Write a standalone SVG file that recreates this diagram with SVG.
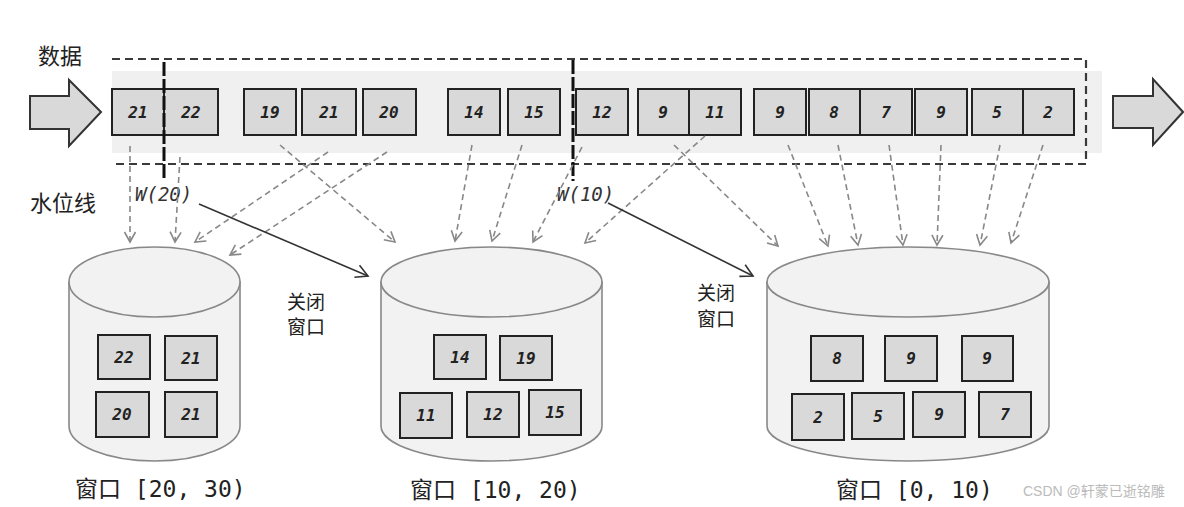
<svg xmlns="http://www.w3.org/2000/svg" width="1184" height="507" viewBox="0 0 1184 507">
<defs>
<style>
.box{fill:#d9d9d9;stroke:#222;stroke-width:2}
.bt{font-family:"DejaVu Sans Mono","Liberation Mono",monospace;font-weight:bold;font-style:italic;font-size:16px;fill:#222;text-anchor:middle;dominant-baseline:central}
.cyl{fill:#f2f2f2;stroke:#888;stroke-width:1.6}
.cjk{font-family:"Noto Sans CJK SC","Noto Sans",sans-serif;fill:#222}
.lbl{font-family:"DejaVu Sans Mono","Noto Sans CJK SC",monospace;font-size:23px;fill:#222}
.wl{font-family:"DejaVu Sans Mono","Liberation Mono",monospace;font-style:italic;font-size:19px;fill:#333}
.da{fill:none;stroke:#888;stroke-width:1.6;stroke-dasharray:6,4;marker-end:url(#ag)}
.sa{fill:none;stroke:#333;stroke-width:1.6;marker-end:url(#ab)}
.frame{fill:none;stroke:#3a3a3a;stroke-width:2.2;stroke-dasharray:8,5}
.wm{stroke:#111;stroke-width:3;stroke-dasharray:14,3}
.big{fill:#d9d9d9;stroke:#333;stroke-width:2}
</style>
<marker id="ag" markerUnits="userSpaceOnUse" markerWidth="14" markerHeight="14" refX="11" refY="6" orient="auto" viewBox="0 0 14 12">
<path d="M1,0.5 L11,6 L1,11.5" fill="none" stroke="#888" stroke-width="1.6"/>
</marker>
<marker id="ab" markerUnits="userSpaceOnUse" markerWidth="16" markerHeight="16" refX="13" refY="7" orient="auto" viewBox="0 0 16 14">
<path d="M1,0.5 L13,7 L1,13.5" fill="none" stroke="#333" stroke-width="1.6"/>
</marker>
</defs>
<rect width="1184" height="507" fill="#fff"/>

<g id="stream">
<rect x="112" y="71" width="990" height="82" fill="#f0f0f0"/>
<path class="frame" d="M112,59 H1086 V164 H112"/>
<polygon class="big" points="30,96 69,96 69,80 101,112 69,146 69,129 30,129"/>
<polygon class="big" points="1113,96 1153,96 1153,79 1183,112 1153,145 1153,128 1113,128"/>
<text class="cjk" x="38" y="64" font-size="22">数据</text>
<text class="cjk" x="30" y="211" font-size="22">水位线</text>
</g>

<g id="stream-events">
<rect class="box" x="112" y="89" width="52" height="46"/><text class="bt" x="138" y="112">21</text>
<rect class="box" x="164" y="89" width="54" height="46"/><text class="bt" x="191" y="112">22</text>
<rect class="box" x="244" y="89" width="52" height="46"/><text class="bt" x="270" y="112">19</text>
<rect class="box" x="302" y="89" width="54" height="46"/><text class="bt" x="329" y="112">21</text>
<rect class="box" x="363" y="89" width="53" height="46"/><text class="bt" x="389" y="112">20</text>
<rect class="box" x="448" y="89" width="52" height="46"/><text class="bt" x="474" y="112">14</text>
<rect class="box" x="508" y="89" width="52" height="46"/><text class="bt" x="534" y="112">15</text>
<rect class="box" x="576" y="89" width="52" height="46"/><text class="bt" x="602" y="112">12</text>
<rect class="box" x="638" y="89" width="51" height="46"/><text class="bt" x="663" y="112">9</text>
<rect class="box" x="689" y="89" width="52" height="46"/><text class="bt" x="715" y="112">11</text>
<rect class="box" x="754" y="89" width="52" height="46"/><text class="bt" x="780" y="112">9</text>
<rect class="box" x="809" y="89" width="51" height="46"/><text class="bt" x="834" y="112">8</text>
<rect class="box" x="860" y="89" width="52" height="46"/><text class="bt" x="886" y="112">7</text>
<rect class="box" x="915" y="89" width="52" height="46"/><text class="bt" x="941" y="112">9</text>
<rect class="box" x="972" y="89" width="51" height="46"/><text class="bt" x="997" y="112">5</text>
<rect class="box" x="1023" y="89" width="51" height="46"/><text class="bt" x="1048" y="112">2</text>
</g>

<g id="watermark-20">
<line class="wm" x1="164" y1="62" x2="164" y2="181"/>
<text class="wl" x="135" y="201">W(20)</text>
</g>
<g id="watermark-10">
<line class="wm" x1="573" y1="60" x2="573" y2="181"/>
<text class="wl" x="557" y="201">W(10)</text>
</g>

<g id="window-20-30">
<path class="cyl" d="M69,282 V426 A85.5,35 0 0 0 240,426 V282 Z"/>
<ellipse class="cyl" cx="154.5" cy="282" rx="85.5" ry="35"/>
<rect class="box" x="98" y="335" width="52" height="44"/><text class="bt" x="124" y="357">22</text>
<rect class="box" x="165" y="336" width="52" height="44"/><text class="bt" x="191" y="358">21</text>
<rect class="box" x="96" y="392" width="53" height="45"/><text class="bt" x="122" y="414">20</text>
<rect class="box" x="165" y="392" width="52" height="45"/><text class="bt" x="191" y="414">21</text>
<text class="lbl" x="75" y="497">窗口 [20, 30)</text>
</g>

<g id="window-10-20">
<path class="cyl" d="M381,282 V426 A110.5,35 0 0 0 602,426 V282 Z"/>
<ellipse class="cyl" cx="491.5" cy="282" rx="110.5" ry="35"/>
<rect class="box" x="434" y="335" width="52" height="44"/><text class="bt" x="460" y="357">14</text>
<rect class="box" x="500" y="336" width="52" height="44"/><text class="bt" x="526" y="358">19</text>
<rect class="box" x="400" y="393" width="52" height="45"/><text class="bt" x="426" y="415">11</text>
<rect class="box" x="467" y="392" width="52" height="45"/><text class="bt" x="493" y="414">12</text>
<rect class="box" x="529" y="390" width="52" height="45"/><text class="bt" x="555" y="412">15</text>
<text class="lbl" x="410" y="498">窗口 [10, 20)</text>
</g>

<g id="window-0-10">
<path class="cyl" d="M767,282 V426 A141,35 0 0 0 1049,426 V282 Z"/>
<ellipse class="cyl" cx="908" cy="282" rx="141" ry="35"/>
<rect class="box" x="811" y="336" width="52" height="45"/><text class="bt" x="837" y="358">8</text>
<rect class="box" x="885" y="336" width="52" height="45"/><text class="bt" x="911" y="358">9</text>
<rect class="box" x="962" y="336" width="51" height="45"/><text class="bt" x="987" y="358">9</text>
<rect class="box" x="792" y="394" width="52" height="46"/><text class="bt" x="818" y="417">2</text>
<rect class="box" x="852" y="393" width="52" height="46"/><text class="bt" x="878" y="416">5</text>
<rect class="box" x="913" y="392" width="52" height="45"/><text class="bt" x="939" y="414">9</text>
<rect class="box" x="979" y="392" width="52" height="45"/><text class="bt" x="1005" y="414">7</text>
<text class="lbl" x="836" y="498">窗口 [0, 10)</text>
</g>

<g id="close-labels">
<text class="cjk" font-size="19"><tspan x="287" y="309">关闭</tspan><tspan x="287" y="334">窗口</tspan></text>
<text class="cjk" font-size="19"><tspan x="697" y="300">关闭</tspan><tspan x="697" y="326">窗口</tspan></text>
</g>

<g id="connectors">
<line class="da" x1="130" y1="146" x2="130" y2="242"/>
<line class="da" x1="180" y1="157" x2="175" y2="242"/>
<line class="da" x1="328" y1="152" x2="195" y2="242"/>
<line class="da" x1="387" y1="152" x2="230" y2="255"/>
<line class="da" x1="280" y1="145" x2="395" y2="242"/>
<line class="da" x1="472" y1="145" x2="455" y2="241"/>
<line class="da" x1="522" y1="145" x2="492" y2="241"/>
<line class="da" x1="582" y1="147" x2="533" y2="242"/>
<line class="da" x1="705" y1="136" x2="585" y2="243"/>
<line class="da" x1="674" y1="145" x2="778" y2="246"/>
<line class="da" x1="788" y1="145" x2="828" y2="246"/>
<line class="da" x1="838" y1="145" x2="858" y2="245"/>
<line class="da" x1="889" y1="145" x2="903" y2="245"/>
<line class="da" x1="941" y1="145" x2="937" y2="245"/>
<line class="da" x1="1000" y1="145" x2="980" y2="245"/>
<line class="da" x1="1043" y1="145" x2="1011" y2="243"/>
<line class="sa" x1="199" y1="204" x2="368" y2="276"/>
<line class="sa" x1="608" y1="203" x2="753" y2="276"/>
</g>

<text x="1023" y="496" font-family="Liberation Sans,Noto Sans CJK SC,sans-serif" font-size="14" fill="#bbb">CSDN @轩蒙已逝铭雕</text>
</svg>
